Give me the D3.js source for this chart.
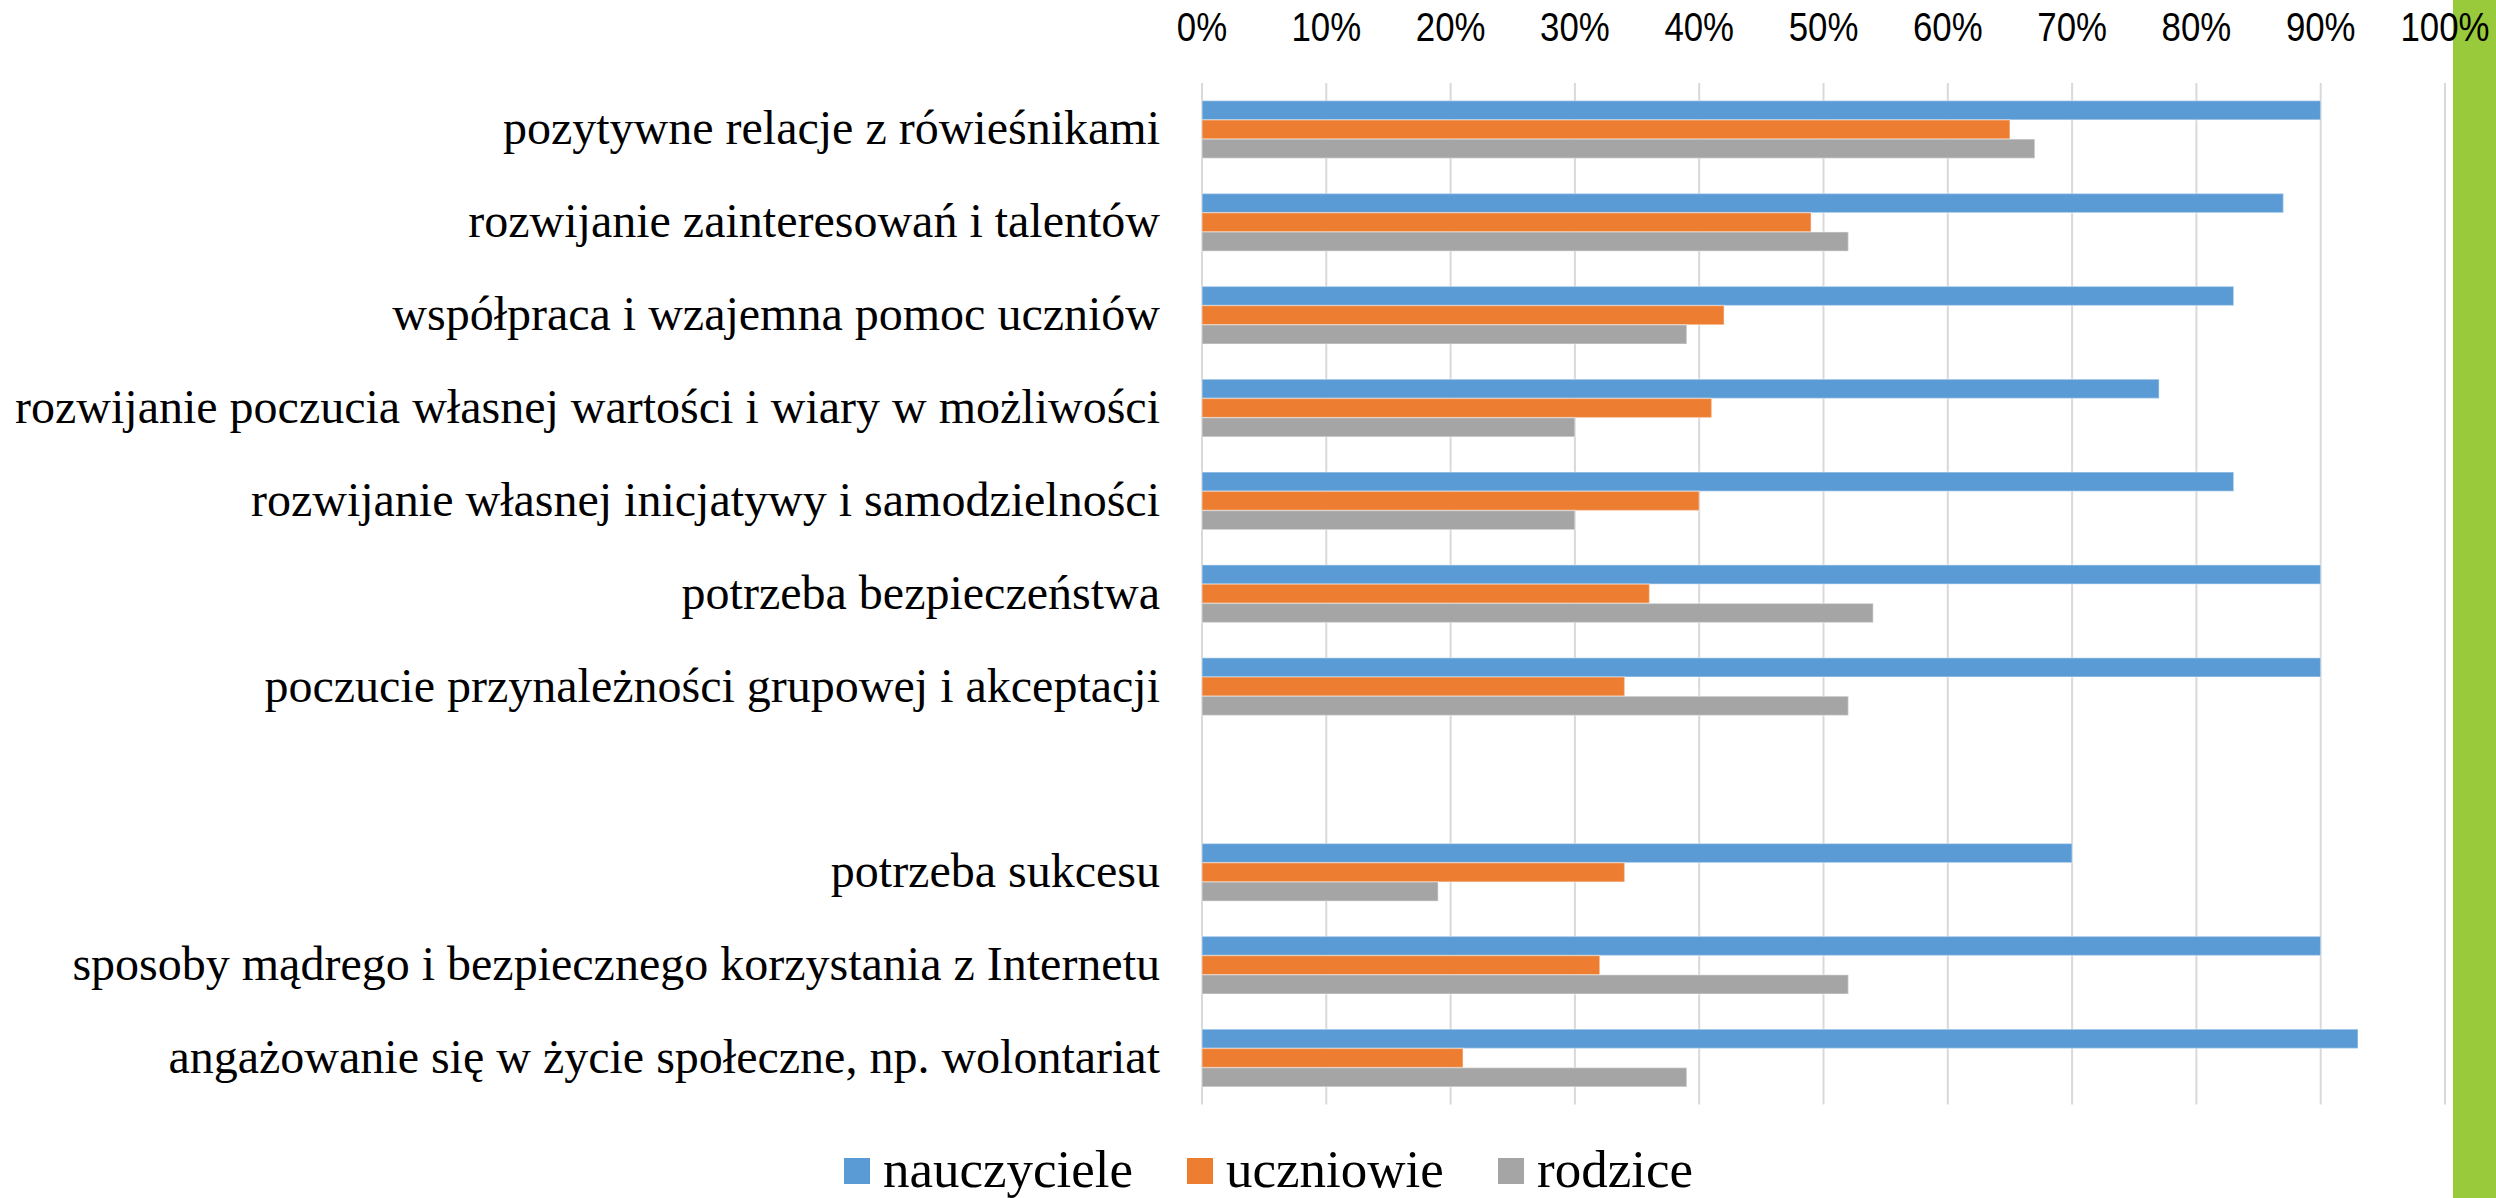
<!DOCTYPE html>
<html>
<head>
<meta charset="utf-8">
<script src="https://cdn.jsdelivr.net/npm/d3@7"></script>
<style>
  html, body { margin: 0; padding: 0; background: #fff; }
  svg { display: block; }
</style>
</head>
<body>
<svg id="chart" width="2496" height="1198"></svg>
<script>
const categories = [
  "pozytywne relacje z rówieśnikami",
  "rozwijanie zainteresowań i talentów",
  "współpraca i wzajemna pomoc uczniów",
  "rozwijanie poczucia własnej wartości i wiary w możliwości",
  "rozwijanie własnej inicjatywy i samodzielności",
  "potrzeba bezpieczeństwa",
  "poczucie przynależności grupowej i akceptacji",
  "",
  "potrzeba sukcesu",
  "sposoby mądrego i bezpiecznego korzystania z Internetu",
  "angażowanie się w życie społeczne, np. wolontariat"
];
const seriesNames = ["nauczyciele", "uczniowie", "rodzice"];
const nauczyciele = [0.90, 0.87, 0.83, 0.77, 0.83, 0.90, 0.90, null, 0.70, 0.90, 0.93];
const uczniowie   = [0.65, 0.49, 0.42, 0.41, 0.40, 0.36, 0.34, null, 0.34, 0.32, 0.21];
const rodzice     = [0.67, 0.52, 0.39, 0.30, 0.30, 0.54, 0.52, null, 0.19, 0.52, 0.39];
const tickValues  = [0, 0.1, 0.2, 0.3, 0.4, 0.5, 0.6, 0.7, 0.8, 0.9, 1.0];

const seriesValues = [nauczyciele, uczniowie, rodzice];
const colors = ["#5B9BD5", "#ED7D31", "#A5A5A5"];

const svg = d3.select("#chart");
const W = 2496, H = 1198;
const plot = { left: 1202, right: 2445, top: 83, bottom: 1104.5 };

// green side strip
svg.append("rect").attr("x", 2453).attr("y", 0).attr("width", W - 2453).attr("height", H).attr("fill", "#99CA3C");

const x = d3.scaleLinear().domain([0, 1]).range([plot.left, plot.right]);
const keys = categories.map((c, i) => i);
const y = d3.scaleBand().domain(keys).range([plot.top, plot.bottom]).paddingInner(0.379).paddingOuter(0.19);
const ySub = d3.scaleBand().domain([0, 1, 2]).range([0, y.bandwidth()]);

// gridlines
svg.append("g").selectAll("line").data(tickValues).join("line")
  .attr("x1", d => x(d)).attr("x2", d => x(d))
  .attr("y1", plot.top).attr("y2", plot.bottom)
  .attr("stroke", "#D9D9D9").attr("stroke-width", 2);

// bars
const groups = svg.append("g").selectAll("g").data(keys).join("g")
  .attr("transform", d => `translate(0,${y(d)})`);
groups.selectAll("rect")
  .data(i => seriesValues.map((s, k) => ({ k, v: s[i] })).filter(d => d.v != null))
  .join("rect")
  .attr("x", x(0))
  .attr("y", d => ySub(d.k))
  .attr("width", d => x(d.v) - x(0))
  .attr("height", ySub.bandwidth())
  .attr("fill", d => colors[d.k])
  .attr("stroke", "rgba(255,255,255,0.35)")
  .attr("stroke-width", 1.5);

// category labels
svg.append("g").selectAll("text").data(keys).join("text")
  .attr("x", 1160)
  .attr("y", d => y(d) + y.bandwidth() / 2 + 15)
  .attr("text-anchor", "end")
  .attr("font-family", "'Liberation Serif', 'Times New Roman', serif")
  .attr("font-size", 48)
  .attr("fill", "#000")
  .text(d => categories[d]);

// top axis
const axis = d3.axisTop(x).tickValues(tickValues).tickSize(0).tickFormat(d3.format(".0%"));
const ag = svg.append("g").attr("transform", "translate(0,41)").call(axis);
ag.select(".domain").remove();
ag.selectAll("text")
  .attr("y", 0).attr("dy", 0)
  .attr("font-family", "'Liberation Sans', Arial, sans-serif")
  .attr("font-size", 40)
  .attr("fill", "#000")
  .attr("transform", function() {
    const t = d3.select(this.parentNode).attr("transform");
    return "scale(0.87,1)";
  });
// compensate scale on tick positions
ag.selectAll(".tick").each(function(d) {
  d3.select(this).attr("transform", `translate(${x(d)},0)`);
  d3.select(this).select("text").attr("transform", "scale(0.87,1)");
});

// legend
const legendX = [844, 1187, 1498];
const lg = svg.append("g").selectAll("g").data(seriesNames).join("g")
  .attr("transform", (d, i) => `translate(${legendX[i]},0)`);
lg.append("rect").attr("x", 0).attr("y", 1158).attr("width", 26).attr("height", 26)
  .attr("fill", (d, i) => colors[i]);
lg.append("text").attr("x", 39).attr("y", 1187)
  .attr("font-family", "'Liberation Serif', 'Times New Roman', serif")
  .attr("font-size", 53).attr("fill", "#000")
  .text(d => d);
</script>
</body>
</html>
